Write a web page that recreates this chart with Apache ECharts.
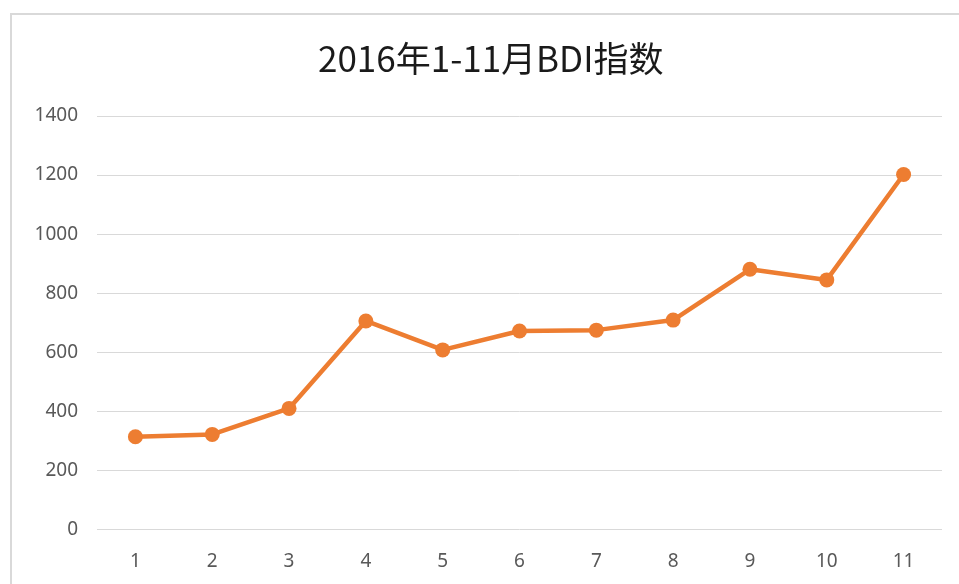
<!DOCTYPE html>
<html>
<head>
<meta charset="utf-8">
<script src="https://cdn.jsdelivr.net/npm/echarts@6/dist/echarts.min.js"></script>
<style>
html,body{margin:0;padding:0;background:#fff;}
#c{width:959px;height:584px;}
</style>
</head>
<body>
<div id="c"></div>
<script>
var titleText = '2016年1-11月BDI指数';
var categories = ['1','2','3','4','5','6','7','8','9','10','11'];
var bdiValues = [314, 322, 410, 706, 608, 672, 675, 709, 881, 845, 1202];
var yTicks = {min: 0, max: 1400, interval: 200};

var chart = echarts.init(document.getElementById('c'));
chart.setOption({
  animation: false,
  backgroundColor: '#fff',
  graphic: [{
    type: 'rect',
    shape: {x: 11, y: 14, width: 1000, height: 1000},
    style: {fill: 'none', stroke: '#d9d9d9', lineWidth: 2},
    silent: true
  }],
  title: {
    text: titleText,
    left: 313,
    top: 36,
    textStyle: {fontFamily: 'Noto Sans CJK SC', fontSize: 35, fontWeight: 'normal', color: '#1a1a1a'}
  },
  grid: {left: 97, right: 17, top: 116, bottom: 54.5},
  xAxis: {
    type: 'category',
    data: categories,
    boundaryGap: true,
    axisLine: {show: false},
    axisTick: {show: false},
    axisLabel: {color: '#595959', fontSize: 19, fontFamily: 'Noto Sans', margin: 23}
  },
  yAxis: {
    type: 'value',
    min: yTicks.min, max: yTicks.max, interval: yTicks.interval,
    axisLine: {show: false},
    axisTick: {show: false},
    axisLabel: {color: '#595959', fontSize: 19, fontFamily: 'Noto Sans', margin: 19,
      formatter: function (v) { return String(v); }},
    splitLine: {lineStyle: {color: '#d9d9d9', width: 1}}
  },
  series: [{
    type: 'line',
    data: bdiValues,
    symbol: 'circle',
    symbolSize: 15,
    lineStyle: {color: '#ED7D31', width: 4.5},
    itemStyle: {color: '#ED7D31'}
  }]
});
</script>
</body>
</html>
